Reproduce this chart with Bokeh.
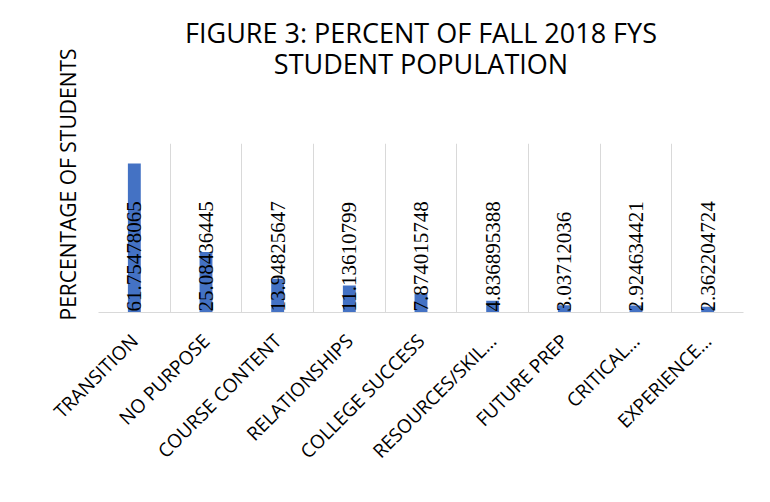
import math
from bokeh.plotting import figure
from bokeh.models import FixedTicker, Title, ColumnDataSource
from bokeh.embed import file_html
from bokeh.resources import INLINE

categories = ["TRANSITION", "NO PURPOSE", "COURSE CONTENT", "RELATIONSHIPS",
              "COLLEGE SUCCESS", "RESOURCES/SKIL…", "FUTURE PREP", "CRITICAL…",
              "EXPERIENCE…"]
values = [61.75478065, 25.08436445, 13.94825647, 11.13610799, 7.874015748,
          4.836895388, 3.03712036, 2.924634421, 2.362204724]
title_text = "FIGURE 3: PERCENT OF FALL 2018 FYS\nSTUDENT POPULATION"
y_title = "PERCENTAGE OF STUDENTS"

FONT = "Open Sans"
xs = [i + 0.5 for i in range(len(categories))]

p = figure(width=762, height=494, x_range=(0, len(categories)), y_range=(0, 70),
           output_backend="svg", toolbar_location=None, title=None,
           min_border_left=98, min_border_right=19, min_border_top=143,
           min_border_bottom=182)
p.outline_line_color = None
p.background_fill_color = "white"
p.border_fill_color = "white"

src = ColumnDataSource(dict(x=xs, top=values, lab=[str(v) for v in values],
                            zero=[0] * len(values)))
p.vbar(x="x", top="top", bottom=0, width=0.18, source=src,
       fill_color="#4472C4", line_color=None)
p.text(x="x", y="zero", text="lab", source=src, angle=math.pi / 2,
       text_align="left", text_baseline="middle", text_font_size="21px",
       text_font=FONT, text_color="black", y_offset=-1)

p.yaxis.visible = False
p.ygrid.visible = False
p.xgrid.ticker = FixedTicker(ticks=list(range(len(categories) + 1)))
p.xgrid.grid_line_color = "#D9D9D9"
p.xgrid.grid_line_width = 1

ax = p.xaxis[0]
ax.ticker = FixedTicker(ticks=xs)
ax.major_label_overrides = {x: c for x, c in zip(xs, categories)}
ax.major_label_orientation = math.pi / 4
ax.major_label_text_font = FONT
ax.major_label_text_font_size = "19px"
ax.major_label_text_color = "black"
ax.major_label_standoff = 19
ax.axis_line_color = "#D9D9D9"
ax.major_tick_line_color = None
ax.minor_tick_line_color = None

# spacer between frame and title (keeps the title up near the top)
p.add_layout(Title(text=" ", text_font_size="1px", standoff=58), "above")
p.add_layout(Title(text=title_text, align="center", text_align="center",
                   standoff=0, text_font=FONT, text_font_size="27px",
                   text_color="black", text_font_style="normal",
                   text_line_height=0.86), "above")

p.add_layout(Title(text=y_title, align="left", offset=-8, standoff=34,
                   text_font=FONT, text_font_size="21px", text_color="black",
                   text_font_style="normal"), "left")

open("out.html", "w").write(file_html(p, INLINE))
